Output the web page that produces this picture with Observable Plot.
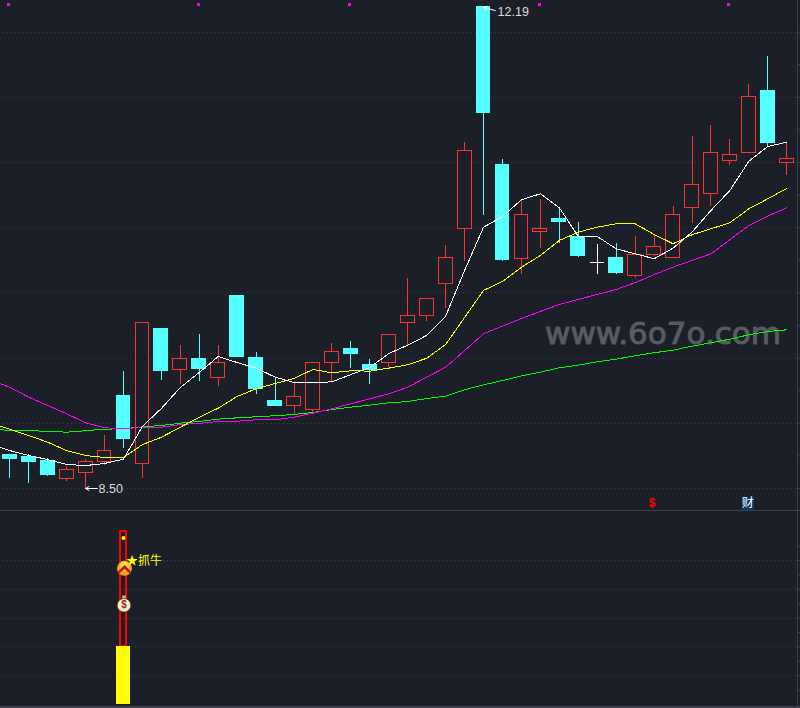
<!DOCTYPE html>
<html>
<head>
<meta charset="utf-8">
<script src="https://cdn.jsdelivr.net/npm/d3@7"></script>
<script src="https://cdn.jsdelivr.net/npm/@observablehq/plot@0.6"></script>
<style>
  html, body { margin: 0; padding: 0; background: #1b1f28; overflow: hidden; }
  svg { display: block; }
  #lower { border-top: 1px solid #39414f; border-bottom: 2px solid #39414f; }
</style>
</head>
<body>
<div id="upper"></div>
<div id="lower"></div>
<script>
const opens  = [8.76,8.74,8.71,8.57,8.62,8.70,9.21,8.69,9.72,9.41,9.49,9.35,9.98,9.50,9.17,9.13,9.10,9.46,9.57,9.45,9.46,9.77,9.82,10.07,10.49,12.19,10.98,10.26,10.47,10.57,10.43,10.23,10.27,10.13,10.29,10.27,10.65,10.76,11.01,11.07,11.55,11.00];
const closes = [8.73,8.70,8.60,8.64,8.70,8.79,8.88,9.77,9.40,9.49,9.42,9.46,9.51,9.26,9.13,9.20,9.46,9.55,9.53,9.41,9.68,9.82,9.95,10.27,11.09,11.38,10.25,10.60,10.49,10.54,10.28,10.23,10.15,10.29,10.35,10.60,10.83,11.07,11.06,11.50,11.15,11.03];
const highs  = [8.76,8.76,8.73,8.67,8.72,8.91,9.40,9.77,9.72,9.60,9.68,9.60,9.98,9.54,9.35,9.32,9.47,9.61,9.63,9.49,9.68,10.11,9.96,10.36,11.15,12.19,11.02,10.71,10.72,10.65,10.54,10.37,10.38,10.43,10.45,10.66,11.20,11.28,11.18,11.60,11.81,11.15];
const lows   = [8.58,8.54,8.59,8.55,8.50,8.68,8.81,8.58,9.33,9.30,9.32,9.28,9.51,9.22,9.13,9.07,9.07,9.32,9.42,9.30,9.43,9.60,9.78,9.88,10.24,10.59,10.24,10.14,10.34,10.38,10.27,10.14,10.14,10.11,10.28,10.27,10.53,10.66,10.98,11.07,11.12,10.90];

// Moving averages: first value belongs to the session just before the visible window (index -1).
const maWhite = [8.84,8.791,8.753,8.722,8.684,8.676,8.692,8.725,8.976,9.114,9.275,9.390,9.512,9.466,9.423,9.354,9.313,9.311,9.318,9.374,9.428,9.535,9.599,9.674,9.822,10.172,10.504,10.586,10.714,10.760,10.653,10.433,10.433,10.338,10.300,10.262,10.343,10.466,10.632,10.786,11.010,11.123,11.156];
const maYellow = [9.005,8.953,8.907,8.855,8.791,8.753,8.738,8.738,8.837,8.893,8.970,9.047,9.116,9.206,9.265,9.305,9.344,9.413,9.387,9.403,9.400,9.423,9.449,9.499,9.604,9.812,10.019,10.088,10.197,10.287,10.402,10.466,10.504,10.530,10.530,10.448,10.377,10.446,10.492,10.538,10.645,10.722,10.801];
const maMagenta = [9.33,9.277,9.200,9.137,9.073,9.004,8.966,8.958,8.970,8.970,8.991,8.999,9.014,9.016,9.027,9.027,9.047,9.078,9.111,9.150,9.188,9.226,9.277,9.354,9.430,9.558,9.687,9.745,9.804,9.858,9.911,9.950,9.988,10.026,10.078,10.141,10.197,10.249,10.300,10.407,10.517,10.589,10.653];
const maGreen = [8.952,8.947,8.943,8.939,8.932,8.943,8.955,8.958,8.973,8.983,9.001,9.014,9.032,9.042,9.050,9.058,9.068,9.083,9.106,9.124,9.139,9.157,9.167,9.190,9.208,9.257,9.295,9.328,9.363,9.392,9.426,9.446,9.472,9.492,9.518,9.541,9.561,9.591,9.618,9.645,9.679,9.704,9.717];

const priceGrid = [8.5,9,9.5,10,10.5,11,11.5,12];
const priceTicks = d3.range(8.5, 12.5, 0.25);
const flagDays = [0,10,18,28,38];
const flagPrice = 12.21;
const peakDay = 25, peakPrice = 12.19, peakLabel = "12.19";
const troughDay = 4, troughPrice = 8.50, troughLabel = "8.50";
const dollarDay = [34], dollarPrice = 8.385;
const caiDay = [39], caiPrice = 8.385;
const watermark = "www.6o7o.com";

const signalDay = 6;
const signalBase = 2, signalTop = 6;
const signalDot = 5.78, signalCircle = 4.73, signalBag = 3.48, signalText = 4.98;
const signalLabel = "★抓牛";
const lowerGrid = [1,2,3,4,5];
const lowerTicks = d3.range(0.5, 6, 0.5);

const bg = "#1b1f28", red = "#ff3232", cyan = "#54ffff", gridColor = "#3c424c", axisColor = "#39414f";
const days = d3.range(opens.length);
const maDays = d3.range(-1, opens.length);
const xScale = {domain: [-0.4905, 41.567], range: [0, 797], axis: null};
const colorOf = i => closes[i] > opens[i] ? red : closes[i] < opens[i] ? cyan : "#ffffff";
const bodies = days.filter(i => opens[i] !== closes[i]);
const dojis = days.filter(i => opens[i] === closes[i]);
const halfBody = 0.365;
const maLine = (values, stroke) => Plot.line(maDays, {
  x: d => d, y: (d, i) => values[i], stroke, strokeWidth: 1, shapeRendering: "crispEdges"
});
const chevron = {draw(c, size) {
  const s = Math.sqrt(size);
  c.moveTo(-0.5*s, 0.2*s); c.lineTo(0, -0.3*s); c.lineTo(0.5*s, 0.2*s);
  c.lineTo(0.5*s, 0.45*s); c.lineTo(0, 0.02*s); c.lineTo(-0.5*s, 0.45*s); c.closePath();
}};

const upper = Plot.plot({
  width: 800, height: 510,
  marginTop: 0, marginBottom: 0, marginLeft: 0, marginRight: 3,
  style: {background: bg, fontFamily: "'Liberation Sans', Arial, sans-serif"},
  x: xScale,
  y: {domain: [8.5, 12.5], range: [488, -33.6], axis: null},
  marks: [
    Plot.ruleY(priceGrid, {stroke: gridColor, strokeDasharray: "1 3", strokeDashoffset: 1, shapeRendering: "crispEdges"}),
    Plot.frame({anchor: "right", stroke: axisColor}),
    Plot.axisY({anchor: "right", ticks: priceTicks, tickSize: 3, tickFormat: () => "", stroke: axisColor, label: null}),
    Plot.text([watermark], {
      x: [34.47], y: [9.685], text: d => d, fill: "#585b60", stroke: "#585b60", strokeWidth: 1, fontSize: 31,
      fontFamily: "'DejaVu Sans', sans-serif", textAnchor: "middle"
    }),
    Plot.ruleX(days, {x: d => d, y1: i => lows[i], y2: i => highs[i], stroke: colorOf, strokeWidth: 1, shapeRendering: "crispEdges"}),
    Plot.rect(bodies, {
      x1: i => i - halfBody, x2: i => i + halfBody,
      y1: i => opens[i], y2: i => closes[i],
      fill: i => closes[i] > opens[i] ? bg : cyan, stroke: colorOf, strokeWidth: 1, shapeRendering: "crispEdges"
    }),
    Plot.ruleY(dojis, {x1: i => i - halfBody, x2: i => i + halfBody, y: i => opens[i], stroke: colorOf, strokeWidth: 1, shapeRendering: "crispEdges"}),
    maLine(maGreen, "#00ff00"),
    maLine(maMagenta, "#ff00ff"),
    maLine(maYellow, "#ffff00"),
    maLine(maWhite, "#ffffff"),
    Plot.dot(flagDays, {x: d => d, y: () => flagPrice, symbol: "square", r: 1.7, fill: "#ff00ff", dx: -1, shapeRendering: "crispEdges"}),
    Plot.arrow([peakDay], {x1: d => d + 0.62, y1: () => peakPrice - 0.025, x2: d => d, y2: () => peakPrice, stroke: "#ffffff", strokeWidth: 1, bend: 0, headLength: 6, insetStart: 0, insetEnd: 0}),
    Plot.text([peakLabel], {x: [peakDay], y: [peakPrice], text: d => d, dx: 14, dy: 5, textAnchor: "start", fill: "#dcdcdc", fontSize: 12.5}),
    Plot.arrow([troughDay], {x1: d => d + 0.62, y1: () => troughPrice, x2: d => d, y2: () => troughPrice, stroke: "#ffffff", strokeWidth: 1, bend: 0, headLength: 6, insetStart: 0, insetEnd: 0}),
    Plot.text([troughLabel], {x: [troughDay], y: [troughPrice], text: d => d, dx: 13, textAnchor: "start", fill: "#dcdcdc", fontSize: 12.5}),
    Plot.text(dollarDay, {x: d => d, y: () => dollarPrice, text: () => "$", fill: "#ff0000", fontSize: 12, fontWeight: "bold", dx: -2}),
    Plot.dot(caiDay, {x: d => d, y: () => caiPrice, symbol: "square", r: 7, fill: "#0a3a6b", dx: -1, shapeRendering: "crispEdges"}),
    Plot.text(caiDay, {x: d => d, y: () => caiPrice, text: () => "财", fill: "#ffffff", fontSize: 12, dx: -1, fontFamily: "'Noto Sans CJK SC', sans-serif"})
  ]
});
document.getElementById("upper").append(upper);

const lower = Plot.plot({
  width: 800, height: 195,
  marginTop: 0, marginBottom: 0, marginLeft: 0, marginRight: 3,
  style: {background: bg, fontFamily: "'Noto Sans CJK SC', sans-serif"},
  x: xScale,
  y: {domain: [0, 6], range: [193, 20.2], axis: null},
  marks: [
    Plot.ruleY(lowerGrid, {stroke: gridColor, strokeDasharray: "1 3", strokeDashoffset: 1, shapeRendering: "crispEdges"}),
    Plot.frame({anchor: "right", stroke: axisColor}),
    Plot.axisY({anchor: "right", ticks: lowerTicks, tickSize: 3, tickFormat: () => "", stroke: axisColor, label: null}),
    Plot.rect([signalDay], {x1: d => d - 0.135, x2: d => d + 0.135, y1: () => signalBase, y2: () => signalTop, fill: "none", stroke: "#ff0000", strokeWidth: 2, shapeRendering: "crispEdges"}),
    Plot.rect([signalDay], {x1: d => d - 0.39, x2: d => d + 0.39, y1: () => 0, y2: () => signalBase, fill: "#ffff00", shapeRendering: "crispEdges"}),
    Plot.dot([signalDay], {x: d => d, y: () => signalDot, r: 2, fill: "#ffff00"}),
    Plot.dot([signalDay], {x: d => d, y: () => signalCircle, r: 7.5, fill: "#f3a31a", dx: 1}),
    Plot.dot([signalDay], {x: d => d, y: () => signalCircle, r: 4.8, fill: "#ffd84a", dx: 1, dy: -2}),
    Plot.dot([signalDay], {x: d => d, y: () => signalCircle, r: 7, symbol: chevron, fill: "#c4161c", dx: 1, dy: 0.5}),
    Plot.dot([signalDay], {x: d => d, y: () => signalBag, r: 2, symbol: "square", fill: "#e9b94a", dx: 0.5, dy: -7}),
    Plot.dot([signalDay], {x: d => d, y: () => signalBag, r: 6.8, fill: "#f9edc6", stroke: "#5a3a20", strokeWidth: 0.8, dx: 0.5, dy: 1}),
    Plot.text([signalDay], {x: d => d, y: () => signalBag, text: () => "$", fill: "#8a3225", fontSize: 10, fontWeight: "bold", dx: 0.5, dy: 1, fontFamily: "'Liberation Sans', sans-serif"}),
    Plot.text([signalLabel], {x: [signalDay], y: [signalText], text: d => d, dx: 2.5, textAnchor: "start", fill: "#ffff00", fontSize: 12})
  ]
});
document.getElementById("lower").append(lower);
</script>
</body>
</html>
